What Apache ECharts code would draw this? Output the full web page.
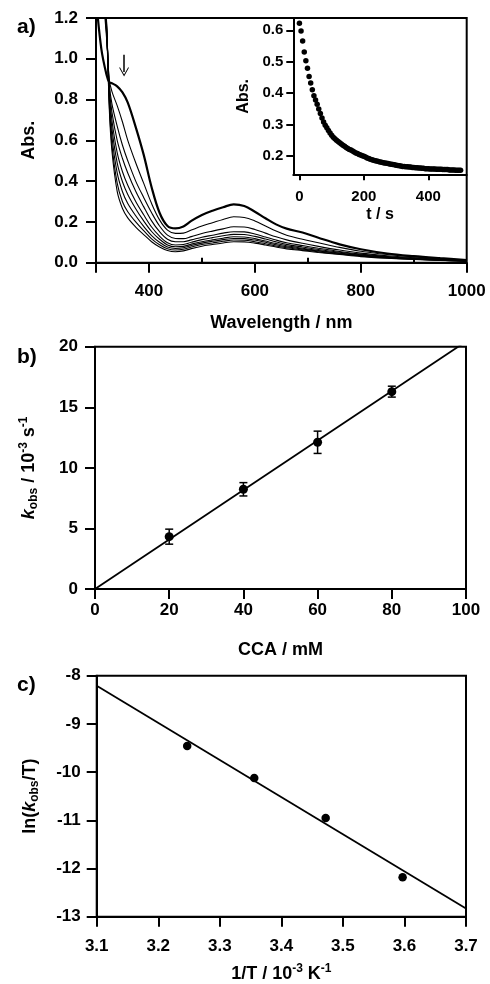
<!DOCTYPE html>
<html>
<head>
<meta charset="utf-8">
<script src="https://cdn.jsdelivr.net/npm/echarts@6/dist/echarts.min.js"></script>
<style>
  html, body { margin: 0; padding: 0; background: #fff; }
  #chart { width: 490px; height: 984px; }
</style>
</head>
<body>
<div id="chart"></div>
<script>
// a) spectra, one row per scan
const wavelengths = [300, 310, 320, 325, 330, 340, 350, 360, 375, 390, 405, 420, 435, 450, 465, 480, 500, 520, 540, 560, 580, 600, 620, 640, 660, 690, 720, 760, 800, 850, 900, 950, 1000];
const spectra = [
  [1.30, 1.05, 0.92, 0.885, 0.88, 0.865, 0.835, 0.785, 0.665, 0.53, 0.37, 0.245, 0.18, 0.168, 0.178, 0.205, 0.234, 0.255, 0.272, 0.286, 0.278, 0.25, 0.218, 0.188, 0.167, 0.148, 0.122, 0.09, 0.066, 0.045, 0.032, 0.022, 0.013],
  [1.6, 1.4, 1.1, 0.9, 0.84, 0.77, 0.69, 0.6, 0.49, 0.39, 0.29, 0.21, 0.16, 0.144, 0.145, 0.16, 0.18, 0.196, 0.212, 0.225, 0.222, 0.205, 0.18, 0.155, 0.135, 0.115, 0.098, 0.075, 0.056, 0.04, 0.028, 0.02, 0.012],
  [1.7, 1.45, 1.12, 0.88, 0.78, 0.67, 0.576, 0.5, 0.4, 0.32, 0.245, 0.18, 0.135, 0.119, 0.118, 0.128, 0.143, 0.155, 0.166, 0.176, 0.175, 0.163, 0.145, 0.127, 0.112, 0.095, 0.08, 0.062, 0.047, 0.034, 0.024, 0.017, 0.01],
  [1.75, 1.5, 1.13, 0.86, 0.74, 0.6, 0.511, 0.44, 0.35, 0.275, 0.205, 0.152, 0.115, 0.103, 0.103, 0.112, 0.125, 0.135, 0.145, 0.152, 0.151, 0.141, 0.126, 0.111, 0.098, 0.084, 0.071, 0.055, 0.042, 0.03, 0.021, 0.015, 0.009],
  [1.8, 1.52, 1.14, 0.84, 0.7, 0.54, 0.446, 0.38, 0.3, 0.235, 0.175, 0.13, 0.098, 0.087, 0.089, 0.1, 0.113, 0.123, 0.132, 0.139, 0.138, 0.129, 0.116, 0.102, 0.09, 0.077, 0.065, 0.051, 0.039, 0.028, 0.02, 0.014, 0.009],
  [1.85, 1.55, 1.15, 0.82, 0.66, 0.49, 0.397, 0.335, 0.265, 0.205, 0.153, 0.115, 0.087, 0.078, 0.08, 0.091, 0.103, 0.112, 0.12, 0.127, 0.126, 0.118, 0.106, 0.094, 0.083, 0.071, 0.06, 0.047, 0.036, 0.026, 0.019, 0.013, 0.008],
  [1.9, 1.58, 1.16, 0.8, 0.62, 0.44, 0.348, 0.29, 0.23, 0.178, 0.133, 0.1, 0.077, 0.07, 0.073, 0.084, 0.096, 0.105, 0.113, 0.119, 0.118, 0.111, 0.1, 0.088, 0.078, 0.067, 0.057, 0.045, 0.034, 0.025, 0.018, 0.012, 0.008],
  [1.95, 1.6, 1.17, 0.78, 0.58, 0.39, 0.299, 0.25, 0.2, 0.157, 0.117, 0.088, 0.068, 0.062, 0.066, 0.077, 0.089, 0.097, 0.105, 0.111, 0.11, 0.103, 0.093, 0.082, 0.073, 0.063, 0.053, 0.042, 0.032, 0.023, 0.017, 0.012, 0.007],
  [2.0, 1.62, 1.18, 0.76, 0.55, 0.35, 0.266, 0.22, 0.175, 0.138, 0.103, 0.077, 0.06, 0.054, 0.058, 0.069, 0.081, 0.089, 0.097, 0.103, 0.102, 0.096, 0.087, 0.077, 0.068, 0.059, 0.05, 0.04, 0.03, 0.022, 0.016, 0.011, 0.007]
];

// a) inset: decay trace
const times = [0, 5, 10, 15, 20, 25, 30, 35, 40, 45, 50, 55, 60, 65, 70, 75, 80, 85, 90, 95,
  100, 105, 110, 115, 120, 125, 130, 135, 140, 145, 150, 155, 160, 165, 170, 175, 180, 185, 190, 195,
  200, 205, 210, 215, 220, 225, 230, 235, 240, 245, 250, 255, 260, 265, 270, 275, 280, 285, 290, 295,
  300, 305, 310, 315, 320, 325, 330, 335, 340, 345, 350, 355, 360, 365, 370, 375, 380, 385, 390, 395,
  400, 405, 410, 415, 420, 425, 430, 435, 440, 445, 450, 455, 460, 465, 470, 475, 480, 485, 490, 495, 500];
const decayAbs = [0.622, 0.598, 0.566, 0.531, 0.503, 0.479, 0.453, 0.432, 0.411, 0.392, 0.378, 0.365, 0.350, 0.335, 0.321, 0.308, 0.298, 0.290, 0.281, 0.273,
  0.266, 0.260, 0.255, 0.250, 0.246, 0.242, 0.238, 0.234, 0.231, 0.227, 0.224, 0.221, 0.219, 0.216, 0.213, 0.210, 0.208, 0.205, 0.203, 0.201,
  0.199, 0.197, 0.194, 0.192, 0.190, 0.188, 0.187, 0.185, 0.184, 0.183, 0.181, 0.180, 0.179, 0.178, 0.177, 0.176, 0.175, 0.174, 0.173, 0.172,
  0.171, 0.170, 0.169, 0.168, 0.167, 0.167, 0.166, 0.166, 0.165, 0.165, 0.164, 0.164, 0.163, 0.163, 0.162, 0.162, 0.161, 0.161, 0.160, 0.160,
  0.160, 0.159, 0.159, 0.159, 0.159, 0.158, 0.158, 0.158, 0.158, 0.157, 0.157, 0.157, 0.157, 0.156, 0.156, 0.156, 0.156, 0.155, 0.155, 0.155, 0.155];

// b) kobs vs CCA
const cca = [20, 40, 60, 80];
const kobs = [4.32, 8.23, 12.11, 16.29];
const kobsErr = [0.62, 0.55, 0.92, 0.45];
const kobsFit = [[0, 0], [100, 20.43]];

// c) Eyring plot
const invT = [3.247, 3.356, 3.472, 3.597];
const lnkT = [-9.46, -10.12, -10.95, -12.18];
const lnkTFit = [[3.1, -8.21], [3.7, -12.83]];

const FONT = '"Liberation Sans", Arial, sans-serif';
const myChart = echarts.init(document.getElementById("chart"));

const labelStyle = (size, margin) => ({
  color: "#000",
  fontFamily: FONT,
  fontWeight: "bold",
  fontSize: size,
  margin: margin,
  formatter: (v) => String(v),
});
const nameStyle = { color: "#000", fontFamily: FONT, fontWeight: "bold", fontSize: 18 };
const rich = {
  n: { fontFamily: FONT, fontWeight: "bold", fontSize: 18, lineHeight: 22 },
  i: { fontFamily: FONT, fontWeight: "bold", fontStyle: "italic", fontSize: 18, lineHeight: 22 },
  sub: { fontFamily: FONT, fontWeight: "bold", fontSize: 12, lineHeight: 12, verticalAlign: "bottom" },
  sup: { fontFamily: FONT, fontWeight: "bold", fontSize: 12, lineHeight: 12, verticalAlign: "top" },
};
const axisLine = { show: true, onZero: false, lineStyle: { color: "#000", width: 2 } };
const tick = (len) => ({ show: true, inside: false, length: len, lineStyle: { color: "#000", width: 2 } });
const frame = { show: true, borderColor: "#000", borderWidth: 2, backgroundColor: "transparent" };
const dot = { color: "#000", opacity: 1 };

// error bars drawn through the axis scale
const renderErr = (params, api) => {
  const x = api.value(0), y = api.value(1), e = api.value(2);
  const top = api.coord([x, y + e]);
  const bot = api.coord([x, y - e]);
  const w = 4;
  const st = { stroke: "#000", lineWidth: 1.5 };
  return {
    type: "group",
    children: [
      { type: "line", shape: { x1: top[0], y1: top[1], x2: bot[0], y2: bot[1] }, style: st },
      { type: "line", shape: { x1: top[0] - w, y1: top[1], x2: top[0] + w, y2: top[1] }, style: st },
      { type: "line", shape: { x1: bot[0] - w, y1: bot[1], x2: bot[0] + w, y2: bot[1] }, style: st },
    ],
  };
};

const specSeries = spectra.map((row, k) => ({
  type: "line",
  xAxisIndex: 0,
  yAxisIndex: 0,
  data: wavelengths.map((w, i) => [w, row[i]]),
  showSymbol: false,
  smooth: 0.35,
  clip: true,
  lineStyle: { color: "#000", width: k === 0 ? 2.2 : 1.1 },
  z: 3,
}));
// arrow showing the decreasing band
specSeries[0].markLine = {
  silent: true,
  animation: false,
  symbol: ["none", "path://M0,9 L5,0 L10,9 L9,9 L5,2 L1,9 Z"],
  symbolSize: [10, 9],
  label: { show: false },
  lineStyle: { color: "#000", width: 1.5, type: "solid" },
  data: [[{ coord: [353, 1.02] }, { coord: [353, 0.935] }]],
};

const option = {
  animation: false,
  backgroundColor: "#fff",
  textStyle: { fontFamily: FONT },
  title: [
    { text: "a)", left: 12, top: 12, textStyle: { fontFamily: FONT, fontWeight: "bold", fontSize: 21, color: "#000" } },
    { text: "b)", left: 12, top: 342, textStyle: { fontFamily: FONT, fontWeight: "bold", fontSize: 21, color: "#000" } },
    { text: "c)", left: 12, top: 670, textStyle: { fontFamily: FONT, fontWeight: "bold", fontSize: 21, color: "#000" } },
  ],
  grid: [
    { left: 96, top: 18, width: 370.7, height: 244.7, ...frame },
    { left: 293.3, top: 18.3, width: 173.4, height: 156, show: false },
    { left: 95, top: 346.7, width: 371, height: 242.3, ...frame },
    { left: 96.7, top: 675.7, width: 369.3, height: 241, ...frame },
  ],
  xAxis: [
    {
      gridIndex: 0, type: "value", min: 300, max: 1000,
      axisLine, splitLine: { show: false },
      axisTick: { ...tick(10), customValues: [300, 400, 600, 800, 1000] },
      axisLabel: { ...labelStyle(17, 20), customValues: [400, 600, 800, 1000] },
      name: "Wavelength / nm", nameLocation: "middle", nameGap: 51, nameTextStyle: nameStyle,
    },
    {
      gridIndex: 0, type: "value", min: 300, max: 1000,
      axisLine: { show: false }, splitLine: { show: false },
      axisTick: { ...tick(5), customValues: [500, 700, 900] },
      axisLabel: { show: false },
    },
    {
      gridIndex: 1, type: "value", min: -19, max: 519,
      axisLine, splitLine: { show: false },
      axisTick: { ...tick(6), customValues: [0, 200, 400] },
      axisLabel: { ...labelStyle(15, 15), customValues: [0, 200, 400] },
      name: "t / s", nameLocation: "middle", nameGap: 32, nameTextStyle: { ...nameStyle, fontSize: 16 },
    },
    {
      gridIndex: 2, type: "value", min: 0, max: 100, interval: 20,
      axisLine, splitLine: { show: false }, axisTick: tick(10),
      axisLabel: labelStyle(17, 13),
      name: "CCA / mM", nameLocation: "middle", nameGap: 52, nameTextStyle: nameStyle,
    },
    {
      gridIndex: 3, type: "value", min: 3.1, max: 3.7, interval: 0.1,
      axisLine, splitLine: { show: false }, axisTick: tick(10),
      axisLabel: { ...labelStyle(17, 21), formatter: (v) => v.toFixed(1) },
      name: "{n|1/T / 10}{sup|-3}{n| K}{sup|-1}", nameLocation: "middle", nameGap: 46,
      nameTextStyle: { ...nameStyle, rich },
    },
  ],
  yAxis: [
    {
      gridIndex: 0, type: "value", min: 0, max: 1.2, interval: 0.2,
      axisLine, splitLine: { show: false }, axisTick: tick(10),
      axisLabel: { ...labelStyle(17, 18), formatter: (v) => v.toFixed(1) },
      name: "Abs.", nameLocation: "middle", nameGap: 58, nameTextStyle: nameStyle,
    },
    {
      gridIndex: 1, type: "value", min: 0.142, max: 0.638,
      axisLine, splitLine: { show: false },
      axisTick: { ...tick(7), customValues: [0.2, 0.3, 0.4, 0.5, 0.6] },
      axisLabel: { ...labelStyle(15, 10), customValues: [0.2, 0.3, 0.4, 0.5, 0.6], formatter: (v) => v.toFixed(1) },
      name: "Abs.", nameLocation: "middle", nameGap: 42, nameTextStyle: { ...nameStyle, fontSize: 16 },
    },
    {
      gridIndex: 2, type: "value", min: 0, max: 20, interval: 5,
      axisLine, splitLine: { show: false }, axisTick: tick(10),
      axisLabel: labelStyle(17, 17),
      name: "{i|k}{sub|obs}{n| / 10}{sup|-3}{n| s}{sup|-1}", nameLocation: "middle", nameGap: 55,
      nameTextStyle: { ...nameStyle, rich },
    },
    {
      gridIndex: 3, type: "value", min: -13, max: -8, interval: 1,
      axisLine, splitLine: { show: false }, axisTick: tick(10),
      axisLabel: labelStyle(17, 16),
      name: "{n|ln(}{i|k}{sub|obs}{n|/T)}", nameLocation: "middle", nameGap: 56,
      nameTextStyle: { ...nameStyle, rich },
    },
  ],
  series: [
    ...specSeries,
    {
      type: "scatter", xAxisIndex: 2, yAxisIndex: 1,
      data: times.map((t, i) => [t, decayAbs[i]]),
      symbolSize: 5.5, itemStyle: dot, z: 4,
    },
    {
      type: "line", xAxisIndex: 3, yAxisIndex: 2, data: kobsFit,
      showSymbol: false, clip: true, lineStyle: { color: "#000", width: 1.8 },
    },
    {
      type: "custom", xAxisIndex: 3, yAxisIndex: 2,
      data: cca.map((c, i) => [c, kobs[i], kobsErr[i]]),
      encode: { x: 0, y: 1 }, renderItem: renderErr, z: 4,
    },
    {
      type: "scatter", xAxisIndex: 3, yAxisIndex: 2,
      data: cca.map((c, i) => [c, kobs[i]]),
      symbolSize: 9, itemStyle: dot, z: 5,
    },
    {
      type: "line", xAxisIndex: 4, yAxisIndex: 3, data: lnkTFit,
      showSymbol: false, clip: true, lineStyle: { color: "#000", width: 1.8 },
    },
    {
      type: "scatter", xAxisIndex: 4, yAxisIndex: 3,
      data: invT.map((x, i) => [x, lnkT[i]]),
      symbolSize: 8.5, itemStyle: dot, z: 5,
    },
  ],
};

myChart.setOption(option);
</script>
</body>
</html>
